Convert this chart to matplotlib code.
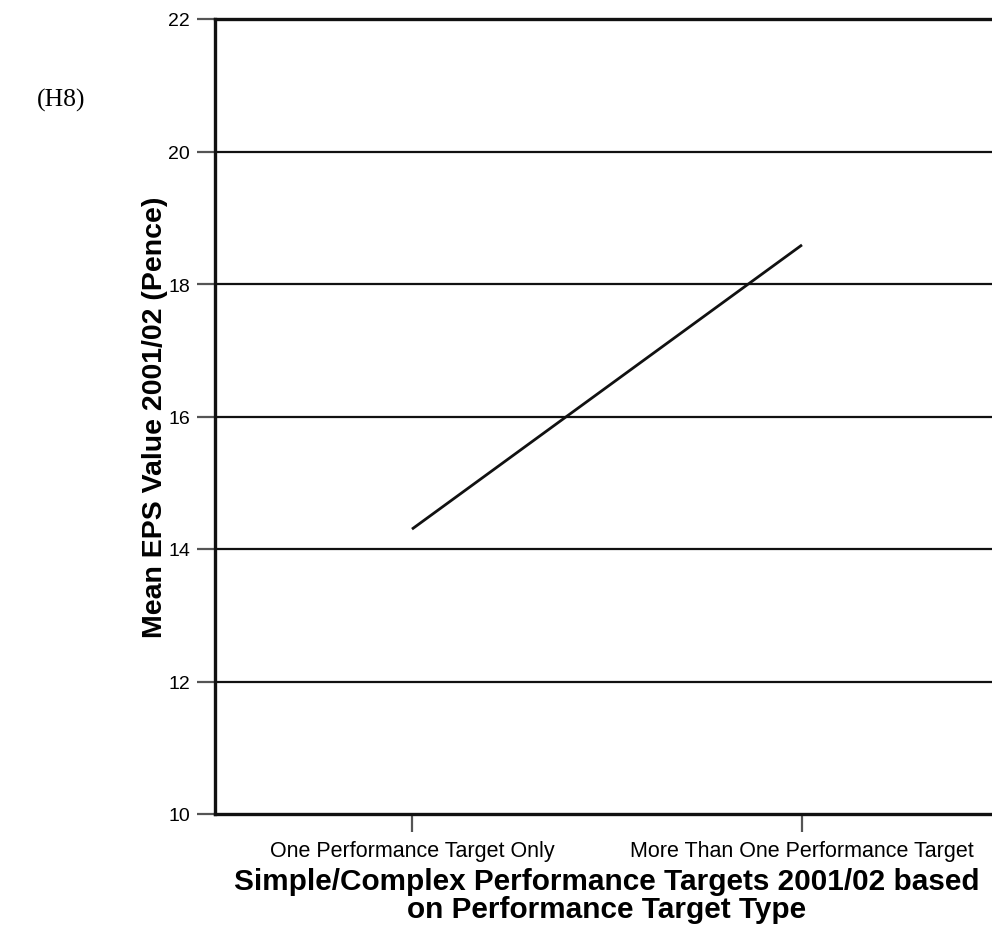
import matplotlib
matplotlib.use("Agg")
import matplotlib.pyplot as plt

categories = ["One Performance Target Only", "More Than One Performance Target"]
mean_eps = [14.3, 18.59]
y_ticks = [10, 12, 14, 16, 18, 20, 22]

plt.rcParams['font.family'] = ['Liberation Sans', 'DejaVu Sans']

fig = plt.figure(figsize=(9.92, 9.29), dpi=100)
ax = fig.add_axes([215 / 992, 114 / 929, 782 / 992, 795 / 929])

x = list(range(len(categories)))
ax.plot(x, mean_eps, color='#111111', lw=2.0, solid_capstyle='butt', zorder=3)

ax.set_xlim(-0.505, 1.5)
ax.set_ylim(10, 22)
ax.set_yticks(y_ticks)
ax.set_yticklabels([str(v) for v in y_ticks], fontsize=14)
ax.set_xticks(x)
ax.set_xticklabels(categories, fontsize=15.5)

for v in y_ticks[1:-1]:
    ax.axhline(v, color='#111111', lw=1.6, zorder=1)

for side in ['left', 'bottom', 'top', 'right']:
    ax.spines[side].set_linewidth(2.4)
    ax.spines[side].set_color('#111111')

ax.tick_params(axis='y', length=13, width=1.6, color='#555555', pad=5)
ax.tick_params(axis='x', length=13, width=1.6, color='#555555', pad=6)

# Axis titles
fig.text(155 / 992, 1 - 417 / 929, "Mean EPS Value 2001/02 (Pence)",
         rotation=90, fontsize=20.5, fontweight='bold', ha='center', va='center')
fig.text(607 / 992, 1 - 896 / 929,
         "Simple/Complex Performance Targets 2001/02 based\non Performance Target Type",
         fontsize=21.4, fontweight='bold', ha='center', va='center', linespacing=1.02)

fig.text(37 / 992, 1 - 100 / 929, "(H8)", family=['Liberation Serif', 'DejaVu Serif'],
         fontsize=18.5, va='center', ha='left')

fig.savefig("out.png", dpi=100)
